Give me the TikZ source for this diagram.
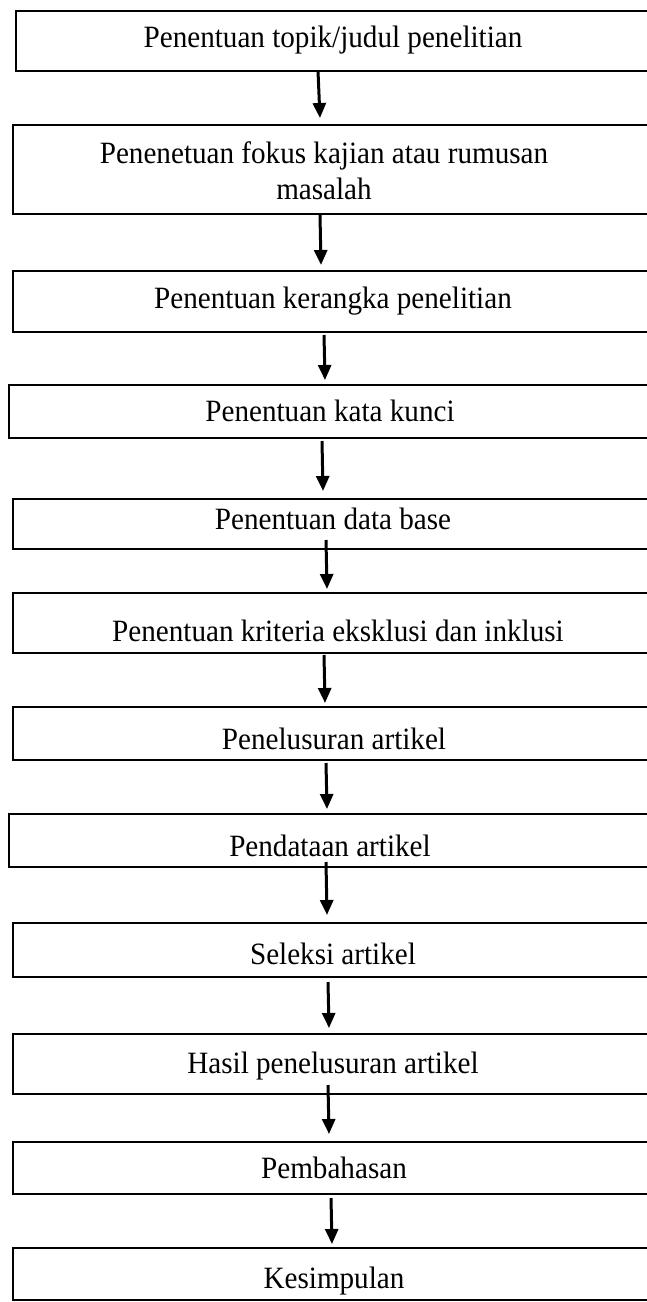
\documentclass[tikz,border=0pt]{standalone}
\usepackage{fontspec}
\setmainfont[FakeStretch=0.94]{Liberation Serif}
\usetikzlibrary{arrows.meta}
\begin{document}
\begin{tikzpicture}[x=1pt,y=-1pt,
  box/.style={draw=black, line width=2.2pt, anchor=north west, minimum width=680pt, inner sep=0pt},
  lbl/.style={font=\fontsize{31}{36}\selectfont, align=center, inner sep=0pt, anchor=base},
  arr/.style={-{Triangle[width=13pt,length=15pt]}, line width=3pt}]
\useasboundingbox (0,0) rectangle (647,1302);
\fill[white] (0,0) rectangle (647,1302);
\clip (0,0) rectangle (647,1302);
% boxes
\node[box, minimum height=60pt] (b1) at (15,10) {};
\node[box, minimum height=89pt] (b2) at (12,124) {};
\node[box, minimum height=61pt] (b3) at (12,270) {};
\node[box, minimum height=53pt] (b4) at (8,384) {};
\node[box, minimum height=50pt] (b5) at (12,498) {};
\node[box, minimum height=60pt] (b6) at (12,592) {};
\node[box, minimum height=53pt] (b7) at (12,706) {};
\node[box, minimum height=53pt] (b8) at (8,813) {};
\node[box, minimum height=54pt] (b9) at (12,922) {};
\node[box, minimum height=60pt] (b10) at (12,1033) {};
\node[box, minimum height=52pt] (b11) at (12,1141) {};
\node[box, minimum height=52pt] (b12) at (12,1247) {};
% labels
\node[lbl] (t1) at (333,47) {Penentuan topik/judul penelitian};
\node[lbl, anchor=center] (t2) at (324,171) {Penenetuan fokus kajian atau rumusan\\masalah};
\node[lbl] (t3) at (333,308) {Penentuan kerangka penelitian};
\node[lbl] (t4) at (330,421) {Penentuan kata kunci};
\node[lbl] (t5) at (333,529) {Penentuan data base};
\node[lbl] (t6) at (338,641) {Penentuan kriteria eksklusi dan inklusi};
\node[lbl] (t7) at (334,749) {Penelusuran artikel};
\node[lbl] (t8) at (330,856) {Pendataan artikel};
\node[lbl] (t9) at (333,964) {Seleksi artikel};
\node[lbl] (t10) at (333,1073) {Hasil penelusuran artikel};
\node[lbl] (t11) at (334,1178) {Pembahasan};
\node[lbl] (t12) at (334,1288) {Kesimpulan};
% arrow end points
\coordinate (a1s) at (318,71);   \coordinate (a1e) at (320,118);
\coordinate (a2s) at (320,215);  \coordinate (a2e) at (321,265);
\coordinate (a3s) at (324,335);  \coordinate (a3e) at (325,380);
\coordinate (a4s) at (322,441);  \coordinate (a4e) at (323,491);
\coordinate (a5s) at (326,540);  \coordinate (a5e) at (327,589);
\coordinate (a6s) at (324,655);  \coordinate (a6e) at (325,703);
\coordinate (a7s) at (326,763);  \coordinate (a7e) at (327,809);
\coordinate (a8s) at (326,862);  \coordinate (a8e) at (327,915);
\coordinate (a9s) at (328,982);  \coordinate (a9e) at (329,1028);
\coordinate (a10s) at (328,1085); \coordinate (a10e) at (329,1134);
\coordinate (a11s) at (331,1198); \coordinate (a11e) at (332,1244);
\foreach \i in {1,...,11} { \draw[arr] (a\i s) -- (a\i e); }
\end{tikzpicture}
\end{document}
